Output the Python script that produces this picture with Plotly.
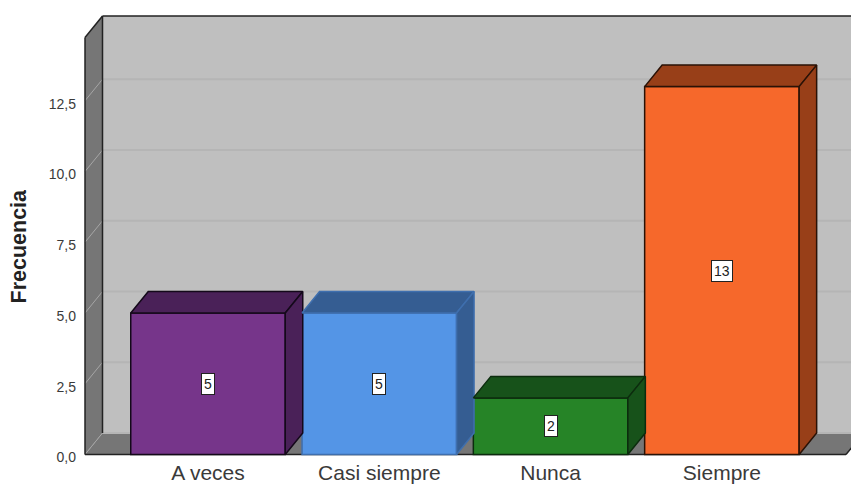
import plotly.graph_objects as go

categories = ["A veces", "Casi siempre", "Nunca", "Siempre"]
values = [5, 5, 2, 13]
front_colors = ["#76358a", "#5495e6", "#268427", "#f6682b"]
side_colors = ["#4a2158", "#355d92", "#17521a", "#983f18"]
edge_colors = ["#14091a", "#3f6fae", "#0c2c0e", "#2a1206"]
y_ticks = [0, 2.5, 5, 7.5, 10, 12.5]

PX_X, PX_Y = 171.3, 28.3
BAR_W = 154.5 / PX_X
DX, DY = 17.5 / PX_X, 21.5 / PX_Y
X_LEFT = (85 - 208) / PX_X
X_RIGHT = (846 - 208) / PX_X
Y_TOP = (454.5 - 16) / PX_Y
X_RANGE = [(80 - 208) / PX_X, (851 - 208) / PX_X]
Y_RANGE = [-3.5 / PX_Y, (454.5 - 11) / PX_Y]


def poly(pts):
    return "M " + " L ".join(f"{a},{b}" for a, b in pts) + " Z"


shapes = []
# back wall
shapes.append(dict(type="path", layer="below", xref="x", yref="y", line=dict(width=0), fillcolor="#bfbfbf",
                   path=poly([(X_LEFT + DX, DY), (X_RIGHT + DX + 1, DY), (X_RIGHT + DX + 1, Y_TOP), (X_LEFT + DX, Y_TOP)])))
# left side wall
shapes.append(dict(type="path", layer="below", xref="x", yref="y", line=dict(width=0), fillcolor="#767676",
                   path=poly([(X_LEFT, 0), (X_LEFT + DX, DY), (X_LEFT + DX, Y_TOP), (X_LEFT, Y_TOP - DY)])))
# floor
shapes.append(dict(type="path", layer="below", xref="x", yref="y", line=dict(width=0), fillcolor="#767676",
                   path=poly([(X_LEFT, 0), (X_RIGHT, 0), (X_RIGHT + DX, DY), (X_LEFT + DX, DY)])))
# grid lines on wall and side wall
for t in y_ticks:
    shapes.append(dict(type="line", layer="below", xref="x", yref="y", x0=X_LEFT, x1=X_LEFT + DX, y0=t, y1=t + DY,
                       line=dict(color="#a6a6a6", width=1)))
    shapes.append(dict(type="line", layer="below", xref="x", yref="y", x0=X_LEFT + DX, x1=X_RIGHT + DX + 1,
                       y0=t + DY, y1=t + DY, line=dict(color="#b5b5b5", width=2)))
# wall outlines
outline = dict(color="#222222", width=1.5)
shapes.append(dict(type="line", layer="below", xref="x", yref="y", x0=X_LEFT + DX, x1=X_LEFT + DX, y0=DY, y1=Y_TOP, line=outline))
shapes.append(dict(type="line", layer="below", xref="x", yref="y", x0=X_LEFT + DX, x1=X_RIGHT + DX + 1, y0=Y_TOP, y1=Y_TOP, line=outline))
shapes.append(dict(type="line", layer="below", xref="x", yref="y", x0=X_LEFT, x1=X_LEFT + DX, y0=Y_TOP - DY, y1=Y_TOP, line=outline))
shapes.append(dict(type="line", layer="below", xref="x", yref="y", x0=X_LEFT, x1=X_LEFT, y0=0, y1=Y_TOP - DY, line=outline))
shapes.append(dict(type="line", layer="below", xref="x", yref="y", x0=X_LEFT, x1=X_RIGHT, y0=0, y1=0, line=outline))
shapes.append(dict(type="line", layer="below", xref="x", yref="y", x0=X_RIGHT, x1=X_RIGHT + DX, y0=0, y1=DY, line=outline))

fig = go.Figure()
positions = list(range(len(categories)))
fig.add_trace(go.Bar(x=positions, y=values, width=BAR_W, marker=dict(color=front_colors, line=dict(color=edge_colors, width=1.5)),
                     hoverinfo="skip", showlegend=False))

annotations = []
for i, v in enumerate(values):
    x0, x1 = i - BAR_W / 2, i + BAR_W / 2
    top = [(x0, v), (x1, v), (x1 + DX, v + DY), (x0 + DX, v + DY), (x0, v)]
    side = [(x1, 0), (x1 + DX, DY), (x1 + DX, v + DY), (x1, v), (x1, 0)]
    for face in (top, side):
        fig.add_trace(go.Scatter(x=[p[0] for p in face], y=[p[1] for p in face], mode="lines", fill="toself",
                                 fillcolor=side_colors[i], line=dict(color=edge_colors[i], width=1.5),
                                 hoverinfo="skip", showlegend=False, cliponaxis=False))
    annotations.append(dict(x=i, y=v / 2, xref="x", yref="y", text=str(v), showarrow=False,
                            font=dict(family="Liberation Sans", size=14, color="#222222"),
                            bgcolor="#ffffff", bordercolor="#222222", borderwidth=1, borderpad=2))

annotations.append(dict(x=(18.5 - 80) / (851 - 80), y=(458 - 246) / (458 - 11), xref="paper", yref="paper",
                        xanchor="center", yanchor="middle",
                        text="<b>Frecuencia</b>", showarrow=False, textangle=-90,
                        font=dict(family="Liberation Sans", size=21.5, color="#222222")))

fig.update_layout(
    width=851, height=490, autosize=False,
    margin=dict(l=80, r=0, t=11, b=32, pad=0),
    paper_bgcolor="#ffffff", plot_bgcolor="#ffffff",
    separators=", ",
    shapes=shapes, annotations=annotations,
    xaxis=dict(range=X_RANGE, tickmode="array", tickvals=positions, ticktext=categories, showgrid=False, zeroline=False,
               showline=False, ticks="", ticklabelstandoff=0,
               tickfont=dict(family="Liberation Sans", size=21, color="#3a3a3a")),
    yaxis=dict(range=Y_RANGE, tickmode="array", tickvals=y_ticks, tickformat=".1f", showgrid=False, zeroline=False,
               showline=False, ticks="", ticklabelstandoff=3, ticklabelshift=3,
               tickfont=dict(family="Liberation Sans", size=14, color="#3a3a3a")),
)
fig.write_html("out.html", default_width="851px", default_height="490px", config=dict(displayModeBar=False),
               post_script="document.body.style.margin='0';document.documentElement.style.overflow='hidden';document.body.style.overflow='hidden';")
